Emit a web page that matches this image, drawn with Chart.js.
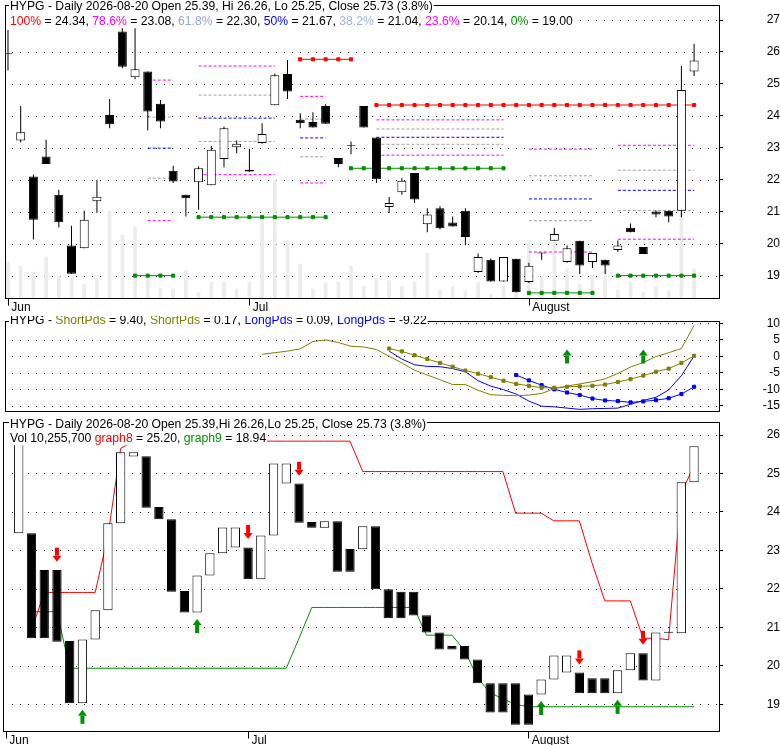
<!DOCTYPE html>
<html>
<head>
<meta charset="utf-8">
<script src="https://cdn.jsdelivr.net/npm/chart.js@4.4.1/dist/chart.umd.min.js"></script>
<style>
  body { margin: 0; background: #fff; width: 780px; height: 745px; overflow: hidden; }
  .panel { position: absolute; left: 0; width: 780px; }
</style>
</head>
<body>
<div class="panel" style="top:0;height:316px"><canvas id="price" width="780" height="316"></canvas></div>
<div class="panel" style="top:316px;height:100px"><canvas id="pds" width="780" height="100"></canvas></div>
<div class="panel" style="top:416px;height:329px"><canvas id="blocks" width="780" height="329"></canvas></div>
<script>
// ---- data ----
const days = ['06-03','06-04','06-05','06-08','06-09','06-10','06-11','06-12','06-15','06-16','06-17','06-18','06-22','06-23','06-24','06-25','06-26','06-29','06-30',
  '07-01','07-02','07-06','07-07','07-08','07-09','07-10','07-13','07-14','07-15','07-16','07-17','07-20','07-21','07-22','07-23','07-24','07-27','07-28','07-29','07-30','07-31',
  '08-03','08-04','08-05','08-06','08-07','08-10','08-11','08-12','08-13','08-14','08-17','08-18','08-19','08-20'];
const monthTickIdx = [0, 19, 41];
const monthTickText = ['Jun', 'Jul', 'August'];

const open  = [25.93,23.23,22.10,22.73,21.53,19.94,19.86,21.33,24.03,26.64,25.21,25.39,24.38,22.28,21.53,21.92,21.83,22.65,23.02,22.31,23.15,24.33,25.31,23.88,23.81,24.31,22.68,23.05,24.31,23.32,21.15,21.61,22.21,20.61,21.11,20.66,21.03,19.11,19.50,18.82,19.53,18.80,19.71,20.09,19.43,20.09,19.43,19.50,19.80,20.50,19.90,21.01,21.03,21.03,25.39];
const high  = [26.69,24.31,22.16,23.25,21.69,20.56,21.03,22.00,24.53,26.74,26.74,25.39,24.50,22.44,21.53,22.42,23.06,23.67,23.23,22.97,23.77,25.33,25.75,24.08,24.11,24.36,22.68,23.20,24.31,23.32,21.46,22.05,22.21,21.11,21.17,20.85,21.11,19.69,19.54,19.58,19.53,19.40,19.71,20.50,19.94,20.09,19.71,19.50,20.10,20.63,19.90,21.04,21.03,25.56,26.26];
const low   = [25.42,23.17,20.13,22.49,20.51,19.06,19.86,20.96,23.61,25.49,25.15,23.54,23.61,21.90,20.85,21.06,21.83,22.39,22.83,22.24,23.13,24.33,24.53,23.61,23.64,23.75,22.39,22.80,23.64,21.90,20.96,21.53,21.27,20.36,20.44,20.54,19.95,19.08,18.82,18.82,18.48,18.77,19.50,20.09,19.40,19.05,19.24,19.05,19.74,20.36,19.68,20.83,20.67,20.83,25.25];
const close = [25.93,23.49,20.75,22.49,20.67,19.06,20.75,21.47,23.74,25.54,25.46,24.14,23.82,21.95,21.42,22.36,22.94,23.61,23.13,22.26,23.43,25.27,24.76,23.77,23.64,23.75,22.49,23.06,23.64,22.02,21.27,21.97,21.38,20.91,20.48,20.54,20.21,19.58,18.82,19.58,18.48,19.31,19.69,20.30,19.86,19.32,19.71,19.32,19.94,20.36,19.68,20.91,20.85,24.81,25.73];
// volume, millions of shares
const volume = [12.6,11.2,9.1,14.4,7.7,7.0,4.9,7.0,30.5,22.1,24.9,7.0,3.5,3.2,9.8,1.8,5.6,5.6,3.2,5.6,27.3,41.3,20.0,11.9,3.2,5.3,5.6,11.2,4.2,7.0,6.0,4.2,5.6,15.8,2.8,3.9,2.5,5.6,1.4,4.2,3.5,20.3,7.4,19.6,10.2,4.9,8.1,9.8,2.8,5.6,2.1,3.9,2.5,29.8,10.26];
const priceTicks = [19, 20, 21, 22, 23, 24, 25, 26, 27];

// fibonacci retracement sets: 78.6%, 61.8%, 50%, 38.2%, 23.6% levels
const fibA = [25.12, 23.96, 22.99, 22.05, 20.72];
const fibB = [25.56, 24.65, 23.93, 23.20, 22.16];
const fibC = [24.61, 23.90, 23.31, 22.72, 21.90];
const fibD = [23.875, 23.59, 23.33, 23.11, 22.77];
const fibE = [22.96, 22.125, 21.40, 20.72, 19.74];
const fibF = [23.08, 22.30, 21.67, 21.04, 20.14];
const fibFrom = [11, 15, 23, 29, 41, 48];
const fibTo   = [13, 21, 25, 39, 46, 54];
const fib100Level = [25.77, 24.34];
const fib100From = [23, 29];
const fib100To = [27, 54];
const fib0Level = [19.00, 20.83, 22.36, 18.46, 19.00];
const fib0From = [10, 15, 27, 41, 48];
const fib0To = [13, 25, 39, 46, 54];

// middle panel
const shortPdsFast = [0.63,1.11,1.59,2.27,4.49,4.97,4.20,3.04,2.85,2.08,
  0.00,-1.98,-4.20,-5.65,-7.10,-8.55,-8.55,-10.28,-11.64,-11.83,-11.93,-11.73,-11.25,-9.80,-9.03,-8.35,-7.68,-6.80,-5.17,-3.23,-1.88,-0.05,1.11,2.37,9.40];
const shortPdsFastStart = 20;
const shortPdsSlow = [2.37,1.50,0.34,-0.82,-1.98,-3.14,-4.30,-5.26,-6.32,-7.39,-8.35,-8.93,-9.51,-9.51,-9.22,-9.12,-8.93,-8.55,-7.77,-6.90,-5.84,-4.68,-3.72,-1.98,0.17];
const shortPdsSlowStart = 30;
const longPdsFast = [1.59,-0.82,-2.56,-3.04,-3.14,-3.72,-4.68,-7.39,-9.03,-10.09,-11.44,-13.57,-15.11,-15.31,-15.69,-16.07,-15.88,-15.79,-15.69,-14.53,-13.37,-12.41,-10.19,-5.84,0.09];
const longPdsFastStart = 30;
const longPdsSlow = [-5.65,-7.29,-8.74,-9.99,-10.96,-11.73,-12.79,-13.37,-13.57,-13.95,-13.66,-13.28,-12.70,-11.44,-9.22];
const longPdsSlowStart = 40;
const pdsTicks = [10, 5, 0, -5, -10, -15];
const pdsArrowIdx = [44, 50];
const pdsArrowTip = [2.08, 2.08];

// bottom panel
const blockOpen  = [23.45,23.45,22.49,22.49,20.65,19.03,20.69,21.45,23.71,25.44,25.45,24.13,23.81,21.95,21.39,22.35,22.93,23.08,23.08,22.25,23.39,24.74,24.74,23.74,23.59,23.76,23.04,23.03,23.63,21.99,21.93,21.93,21.32,20.87,20.52,20.52,20.17,19.55,19.55,19.55,19.26,19.26,19.65,19.83,19.83,19.68,19.68,19.29,19.89,20.33,19.62,20.87,20.85,24.77];
const blockClose = [25.93,20.72,20.72,20.63,19.03,20.69,21.45,23.71,25.55,25.55,24.11,23.81,21.93,21.39,22.35,22.93,23.60,23.60,22.25,23.39,25.26,25.26,23.72,23.59,23.76,22.45,22.45,23.63,21.99,21.24,21.24,21.31,20.87,20.43,20.43,20.17,19.55,18.79,18.79,18.47,18.47,19.65,20.27,20.27,19.29,19.29,19.29,19.89,20.33,19.62,20.87,20.86,24.77,25.71];
const blockStart = 1;
const graph8 = [20.93,21.91,21.91,21.91,21.91,21.91,23.38,25.65,25.84,25.74,25.84,25.84,25.84,25.84,25.84,25.84,25.84,25.84,25.84,25.84,25.84,25.84,25.84,25.84,25.84,25.84,
  25.05,25.05,25.05,25.05,25.05,25.05,25.05,25.05,25.05,25.05,25.05,25.05,23.97,23.97,23.97,23.77,23.77,23.77,22.67,21.69,21.69,21.69,20.72,20.72,20.68,24.50,25.20];
const graph9 = [21.41,21.41,21.41,19.94,19.94,19.94,19.94,19.94,19.94,19.94,19.94,19.94,19.94,19.94,19.94,19.94,19.94,19.94,19.94,19.94,19.94,20.72,21.52,21.52,21.52,21.52,21.52,21.52,21.52,21.52,21.52,
  20.80,20.80,20.80,20.40,19.70,19.30,19.15,19.00,18.94,18.94,18.94,18.94,18.94,18.94,18.94,18.94,18.94,18.94,18.94,18.94,18.94,18.94];
const graphStart = 2;
const blockTicks = [19, 20, 21, 22, 23, 24, 25, 26];
const sellIdx = [4, 19, 23, 45, 50];
const sellTip = [22.71, 23.30, 24.94, 20.04, 20.55];
const buyIdx = [6, 15, 42, 48];
const buyTip = [18.86, 21.22, 19.09, 19.12];

// ---- helpers ----
const FONT = '"Liberation Sans", Arial, sans-serif';
const RED = '#ff0000', GREEN = '#009000', MAGENTA = '#ff00ff', GRAY = '#a0a0a0', BLUE = '#0000ff', OLIVE = '#808000';
Chart.defaults.font.family = FONT;
Chart.defaults.font.size = 12;
Chart.defaults.color = '#000';

const pts = (vals, start) => vals.map((v, i) => ({ x: start + i, y: v }));
const flat = (level, a, b) => { const r = []; for (let i = a; i <= b; i++) r.push({ x: i, y: level }); return r; };

function xAxis(show, h) {
  return {
    type: 'linear', min: -0.235, max: 55.96, offset: false, display: show,
    grid: { display: false, drawTicks: false }, border: { display: false },
    afterBuildTicks: s => { s.ticks = monthTickIdx.map(v => ({ value: v })); },
    ticks: { autoSkip: false, maxRotation: 0, align: 'start', padding: 2,
      callback: v => { const k = monthTickIdx.indexOf(v); return k < 0 ? '' : ' ' + monthTickText[k]; } },
    afterFit: s => { s.height = h; s.paddingLeft = 0; s.paddingRight = 0; }
  };
}
function yAxis(min, max, tickVals, pad) {
  return {
    type: 'linear', position: 'right', min, max,
    afterBuildTicks: s => { s.ticks = tickVals.map(v => ({ value: v })); },
    ticks: { crossAlign: 'far', padding: pad, autoSkip: false },
    grid: { drawOnChartArea: false, tickLength: 4, color: '#000' },
    border: { display: false },
    afterFit: s => { s.width = 61; s.paddingTop = 0; s.paddingBottom = 0; }
  };
}

function drawArrow(ctx, x, yTip, up, color) {
  ctx.fillStyle = color;
  ctx.beginPath();
  if (up) {
    ctx.moveTo(x, yTip); ctx.lineTo(x - 4.5, yTip + 6); ctx.lineTo(x + 4.5, yTip + 6);
    ctx.closePath(); ctx.fill();
    ctx.fillRect(x - 2, yTip + 6, 4, 8);
  } else {
    ctx.moveTo(x, yTip); ctx.lineTo(x - 4.5, yTip - 6); ctx.lineTo(x + 4.5, yTip - 6);
    ctx.closePath(); ctx.fill();
    ctx.fillRect(x - 2, yTip - 14, 4, 8);
  }
}

const decor = {
  id: 'decor',
  beforeDatasetsDraw(chart, args, opts) {
    const { ctx, chartArea: a } = chart, ys = chart.scales.y;
    ctx.save();
    ctx.fillStyle = '#000';
    for (const t of ys.ticks) {
      const y = Math.round(ys.getPixelForValue(t.value));
      for (let x = 12; x < a.right - 1; x += 8) ctx.fillRect(x, y, 1, 1);
    }
    ctx.restore();
  },
  afterDraw(chart, args, opts) {
    const { ctx, chartArea: a } = chart, xs = chart.scales.x, ys = chart.scales.y;
    ctx.save();
    ctx.strokeStyle = '#000'; ctx.lineWidth = 1;
    const L = Math.round(a.left) + 0.5, T = Math.round(a.top) + 0.5, R = Math.round(a.right) + 0.5, B = Math.round(a.bottom) + 0.5;
    ctx.strokeRect(L, T, R - L, B - T);
    if (opts.xTicks) {
      ctx.beginPath();
      monthTickIdx.forEach(v => { const x = Math.round(xs.getPixelForValue(v)) + 0.5; ctx.moveTo(x, B); ctx.lineTo(x, B + 7); });
      ctx.stroke();
    }
    (opts.arrows || []).forEach(g => {
      g.idx.forEach((v, i) => drawArrow(ctx, xs.getPixelForValue(v), ys.getPixelForValue(g.tip[i]), g.up, g.color));
    });
    ctx.font = '12.2px ' + FONT;
    ctx.textBaseline = 'alphabetic';
    (opts.legend || []).forEach(line => {
      let w = 0;
      line.parts.forEach(p => { w += ctx.measureText(p[0]).width; });
      ctx.fillStyle = '#fff';
      ctx.fillRect(9, line.y - 10, w + 2, 13);
      let x = 10;
      line.parts.forEach(p => { ctx.fillStyle = p[1]; ctx.fillText(p[0], x, line.y); x += ctx.measureText(p[0]).width; });
    });
    ctx.restore();
  }
};

const common = { responsive: false, animation: false, events: [] };

// ---- top panel: candles, volume, fibonacci ----
const priceSets = [];
priceSets.push({ type: 'bar', data: pts(volume, 0), yAxisID: 'yv', backgroundColor: '#ececec', barThickness: 3, grouped: false, order: 20 });
[fibA, fibB, fibC, fibD, fibE, fibF].forEach((lv, s) => {
  const cols = [MAGENTA, GRAY, BLUE, GRAY, MAGENTA];
  lv.forEach((v, k) => priceSets.push({ type: 'line', data: flat(v, fibFrom[s], fibTo[s]), yAxisID: 'y', borderColor: cols[k], borderWidth: 1, borderDash: [3, 2], pointRadius: 0, order: 15 }));
});
fib100Level.forEach((v, s) => priceSets.push({ type: 'line', data: flat(v, fib100From[s], fib100To[s]), yAxisID: 'y', borderColor: RED, backgroundColor: RED, borderWidth: 1, pointStyle: 'rect', pointRadius: 2.2, order: 14 }));
fib0Level.forEach((v, s) => priceSets.push({ type: 'line', data: flat(v, fib0From[s], fib0To[s]), yAxisID: 'y', borderColor: GREEN, backgroundColor: GREEN, borderWidth: 1, pointStyle: 'rect', pointRadius: 2.2, order: 14 }));
priceSets.push({ type: 'bar', data: low.map((v, i) => ({ x: i, y: [v, high[i]] })), yAxisID: 'y', backgroundColor: '#000', barThickness: 1, grouped: false, inflateAmount: 0, order: 6 });
priceSets.push({ type: 'bar', data: open.map((v, i) => ({ x: i, y: [v, close[i]] })), yAxisID: 'y',
  backgroundColor: open.map((v, i) => close[i] >= v ? '#fff' : '#000'), borderColor: '#000', borderWidth: 1, borderSkipped: false,
  barThickness: 9, grouped: false, minBarLength: 1, inflateAmount: 0, order: 5 });

new Chart(document.getElementById('price'), {
  type: 'bar',
  data: { datasets: priceSets },
  options: Object.assign({}, common, {
    layout: { padding: { left: 3, top: 5, right: 0, bottom: 0 } },
    scales: {
      x: xAxis(true, 18),
      y: yAxis(18.30, 27.47, priceTicks, 37.6),
      yv: { type: 'linear', display: false, min: 0, max: 102.6 }
    },
    plugins: { legend: { display: false }, tooltip: { enabled: false },
      decor: { xTicks: true, legend: [
        { y: 10.3, parts: [['HYPG - Daily 2026-08-20 Open 25.39, Hi 26.26, Lo 25.25, Close 25.73 (3.8%)', '#000']] },
        { y: 25, parts: [['100%', RED], [' = 24.34, ', '#000'], ['78.6%', MAGENTA], [' = 23.08, ', '#000'], ['61.8%', '#8fa6d6'], [' = 22.30, ', '#000'],
          ['50%', BLUE], [' = 21.67, ', '#000'], ['38.2%', '#a2b2d2'], [' = 21.04, ', '#000'], ['23.6%', MAGENTA], [' = 20.14, ', '#000'], ['0%', GREEN], [' = 19.00', '#000']] }
      ] } }
  }),
  plugins: [decor]
});

// ---- middle panel ----
new Chart(document.getElementById('pds'), {
  type: 'line',
  data: { datasets: [
    { data: pts(shortPdsFast, shortPdsFastStart), borderColor: OLIVE, borderWidth: 1, pointRadius: 0 },
    { data: pts(shortPdsSlow, shortPdsSlowStart), borderColor: OLIVE, backgroundColor: OLIVE, borderWidth: 1, pointStyle: 'rect', pointRadius: 2.2 },
    { data: pts(longPdsFast, longPdsFastStart), borderColor: BLUE, borderWidth: 1, pointRadius: 0 },
    { data: pts(longPdsSlow, longPdsSlowStart), borderColor: BLUE, backgroundColor: BLUE, borderWidth: 1, pointStyle: 'rect', pointRadius: 2.2 }
  ] },
  options: Object.assign({}, common, {
    layout: { padding: { left: 3, top: 2.5, right: 0, bottom: 3.3 } },
    scales: { x: xAxis(false, 0), y: yAxis(-16.57, 10.72, pdsTicks, 33.6) },
    plugins: { legend: { display: false }, tooltip: { enabled: false },
      decor: { arrows: [{ idx: pdsArrowIdx, tip: pdsArrowTip, up: true, color: GREEN }],
        legend: [{ y: 8, parts: [['HYPG - ', '#000'], ['ShortPds', OLIVE], [' = 9.40, ', '#000'], ['ShortPds', OLIVE], [' = 0.17, ', '#000'],
          ['LongPds', BLUE], [' = 0.09, ', '#000'], ['LongPds', BLUE], [' = -9.22', '#000']] }] } }
  }),
  plugins: [decor]
});

// ---- bottom panel ----
new Chart(document.getElementById('blocks'), {
  type: 'bar',
  data: { datasets: [
    { type: 'line', data: pts(graph8, graphStart), borderColor: RED, borderWidth: 1, pointRadius: 0, order: 10 },
    { type: 'line', data: pts(graph9, graphStart), borderColor: GREEN, borderWidth: 1, pointRadius: 0, order: 10 },
    { type: 'bar', data: blockOpen.map((v, i) => ({ x: blockStart + i, y: [v, blockClose[i]] })),
      backgroundColor: blockOpen.map((v, i) => blockClose[i] >= v ? '#fff' : '#000'), borderColor: '#000', borderWidth: 1, borderSkipped: false,
      barThickness: 9.3, grouped: false, minBarLength: 1, inflateAmount: 0, order: 5 }
  ] },
  options: Object.assign({}, common, {
    layout: { padding: { left: 3, top: 6.3, right: 0, bottom: 0 } },
    scales: { x: xAxis(true, 14), y: yAxis(18.31, 26.33, blockTicks, 37.6) },
    plugins: { legend: { display: false }, tooltip: { enabled: false },
      decor: { xTicks: true,
        arrows: [{ idx: sellIdx, tip: sellTip, up: false, color: RED }, { idx: buyIdx, tip: buyTip, up: true, color: GREEN }],
        legend: [
          { y: 12.3, parts: [['HYPG - Daily 2026-08-20 Open 25.39,Hi 26.26,Lo 25.25, Close 25.73 (3.8%)', '#000']] },
          { y: 26.3, parts: [['Vol 10,255,700 ', '#000'], ['graph8', RED], [' = 25.20, ', '#000'], ['graph9', GREEN], [' = 18.94', '#000']] }
        ] } }
  }),
  plugins: [decor]
});
</script>
</body>
</html>
